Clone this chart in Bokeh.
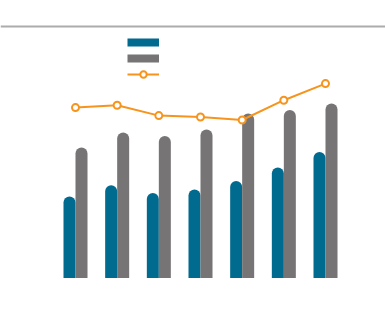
from bokeh.plotting import figure
from bokeh.models import Range1d, Span, Legend, LegendItem, ColumnDataSource
from bokeh.embed import file_html
from bokeh.resources import INLINE

# Data (arbitrary units)
categories = ["1", "2", "3", "4", "5", "6", "7"]
series_a = [40.8, 46.4, 42.5, 44.2, 48.5, 55.2, 63.0]   # blue bars
series_b = [65.2, 72.7, 71.0, 74.3, 82.3, 84.0, 87.3]   # gray bars
series_c = [85.2, 86.4, 81.2, 80.5, 79.0, 88.9, 97.2]   # orange line

BLUE = "#006a8f"
GRAY = "#767474"
ORANGE = "#f7941d"

idx = list(range(len(categories)))
src = ColumnDataSource(dict(
    x=idx,
    xa=[i - 0.144 for i in idx],
    xb=[i + 0.144 for i in idx],
    a=series_a, b=series_b, c=series_c,
))

p = figure(width=385, height=330, output_backend="svg", toolbar_location=None,
           x_axis_type=None, y_axis_type=None,
           x_range=Range1d(-1.8, 7.44), y_range=Range1d(-26.25, 138.75),
           min_border=0, min_border_left=0, min_border_right=0,
           min_border_top=0, min_border_bottom=0)
p.outline_line_color = None
p.xgrid.visible = False
p.ygrid.visible = False
p.background_fill_color = "white"

top_rule = Span(location=125.75, dimension="width", line_color="#acacac", line_width=2)
p.add_layout(top_rule)

ra = p.vbar(x="xa", top="a", bottom=0, width=0.288, source=src,
            fill_color=BLUE, line_color=None, border_radius=(6, 6, 0, 0))
rb = p.vbar(x="xb", top="b", bottom=0, width=0.288, source=src,
            fill_color=GRAY, line_color=None, border_radius=(6, 6, 0, 0))
rl = p.line(x="x", y="c", source=src, line_color=ORANGE, line_width=2)
rs = p.scatter(x="x", y="c", source=src, size=7, fill_color="white",
               line_color=ORANGE, line_width=2)

# legend-only swatches, nothing drawn in the plot
nan = float("nan")
sw_a = p.line(x=[nan], y=[nan], line_color=BLUE, line_width=8)
sw_b = p.line(x=[nan], y=[nan], line_color=GRAY, line_width=8)

legend = Legend(items=[
    LegendItem(label=" ", renderers=[sw_a]),
    LegendItem(label=" ", renderers=[sw_b]),
    LegendItem(label=" ", renderers=[rl, rs]),
], location=(127, 248), orientation="vertical",
    glyph_width=32, glyph_height=16, label_height=16, label_width=0,
    label_standoff=0, label_text_font_size="1px", spacing=0,
    padding=0, margin=0, border_line_color=None, background_fill_alpha=0)
p.add_layout(legend)

open("out.html", "w").write(file_html(p, INLINE))
